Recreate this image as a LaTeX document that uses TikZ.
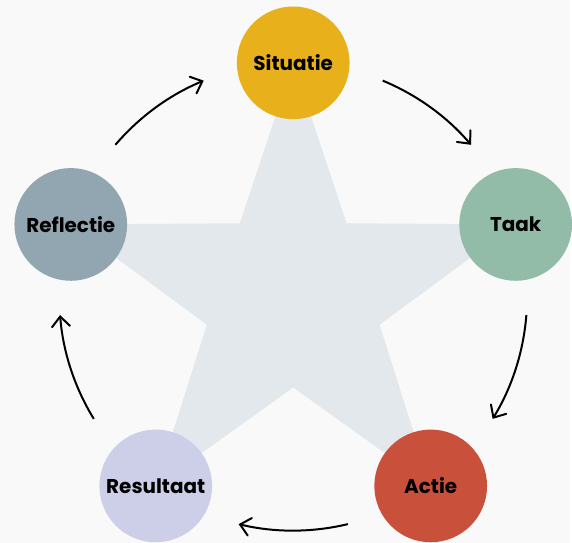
\documentclass[tikz,border=0pt]{standalone}
\usepackage{fontspec}
\setmainfont{Poppins}
\usetikzlibrary{arrows.meta}
\definecolor{achtergrond}{HTML}{F9F9F9}
\definecolor{sterkleur}{HTML}{E2E8EC}
\definecolor{situatiekl}{HTML}{E8B01B}
\definecolor{taakkl}{HTML}{93BCA8}
\definecolor{actiekl}{HTML}{C9503A}
\definecolor{resultaatkl}{HTML}{CDCEE8}
\definecolor{reflectiekl}{HTML}{91A6B1}
\tikzset{
  etappe/.style={circle, minimum size=113pt, inner sep=0pt, font=\bfseries\fontsize{20}{24}\selectfont},
  pijl/.style={line width=2pt, -{Straight Barb[length=10pt, width=18pt, line cap=round]}},
}
\begin{document}
\begin{tikzpicture}[x=1pt,y=1pt]
        \fill[achtergrond] (0,0) rectangle (572,544);
        \begin{scope}[shift={(294,246.5)}]
        \coordinate (midden) at (0,0);
        % ster achter de cirkels
        \fill[sterkleur] (90:234.5) -- (126:91) -- (162:234.5) -- (198:91) -- (234:234.5) -- (270:91)
                -- (306:234.5) -- (342:91) -- (18:234.5) -- (54:91) -- cycle;
        \node[etappe, fill=situatiekl] (situatie) at (90:234.5) {Situatie};
        \node[etappe, fill=taakkl] (taak) at (18:234.5) {Taak};
        \node[etappe, fill=actiekl] (actie) at (-54:234.5) {Actie};
        \node[etappe, fill=resultaatkl] (resultaat) at (-126:234.5) {Resultaat};
        \node[etappe, fill=reflectiekl] (reflectie) at (162:234.5) {Reflectie};
        % pijlen tussen de stappen
        \foreach \m in {54,-18,-90,-162,126}
                \draw[pijl] (\m+13.5:234.5) arc[start angle=\m+13.5, end angle=\m-13.5, radius=234.5];
        \end{scope}
\end{tikzpicture}
\end{document}
